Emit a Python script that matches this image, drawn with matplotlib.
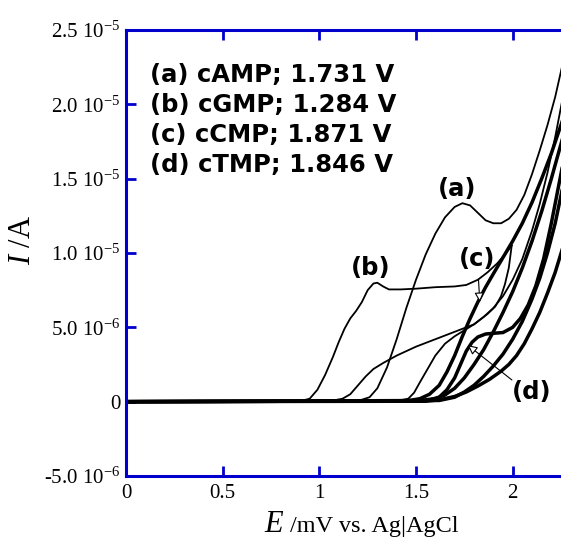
import matplotlib
matplotlib.use("Agg")
import matplotlib.pyplot as plt
import numpy as np

plt.rcParams['mathtext.fontset'] = 'custom'
plt.rcParams['mathtext.rm'] = 'Liberation Serif'
plt.rcParams['mathtext.it'] = 'Liberation Serif:italic'

# ---- data (current in units of 1e-6 A) ----
a_fwd_E = [0.0, 1.2, 1.26, 1.3, 1.35, 1.4, 1.45, 1.5, 1.55, 1.6, 1.65, 1.7, 1.74, 1.78, 1.82, 1.86, 1.9, 1.94, 1.98, 2.02, 2.06, 2.1, 2.14, 2.18, 2.22, 2.26]
a_fwd_I = [0.0, 0.05, 0.3, 0.9, 2.3, 4.2, 6.3, 8.2, 9.9, 11.3, 12.4, 13.1, 13.35, 13.2, 12.7, 12.2, 12.0, 12.0, 12.3, 12.9, 13.9, 15.3, 16.9, 18.6, 20.5, 22.8]
a_rev_E = [2.26, 2.22, 2.18, 2.14, 2.1, 2.05, 2.0, 1.95, 1.9, 1.85, 1.8, 1.75, 1.7, 1.65, 1.6, 1.56, 1.52, 1.49, 1.46, 1.4, 0.0]
a_rev_I = [20.5, 17.8, 15.4, 13.3, 11.5, 9.6, 8.2, 7.1, 6.3, 5.7, 5.2, 4.8, 4.4, 3.9, 3.1, 2.2, 1.3, 0.6, 0.2, 0.05, 0.0]

b_fwd_E = [0.0, 0.9, 0.95, 0.99, 1.03, 1.07, 1.1, 1.13, 1.16, 1.19, 1.22, 1.25, 1.28, 1.3, 1.33, 1.36, 1.42, 1.5, 1.6, 1.7, 1.76, 1.82, 1.87, 1.92, 1.96, 1.995]
b_fwd_I = [0.0, 0.03, 0.2, 0.8, 1.8, 3.0, 4.0, 4.9, 5.6, 6.1, 6.7, 7.5, 7.95, 8.0, 7.75, 7.55, 7.55, 7.6, 7.7, 7.75, 7.85, 8.2, 8.7, 9.3, 9.9, 10.5]
b_rev_E = [1.995, 1.98, 1.96, 1.94, 1.91, 1.87, 1.8, 1.72, 1.62, 1.5, 1.4, 1.33, 1.28, 1.24, 1.2, 1.16, 1.12, 1.06, 0.0]
b_rev_I = [10.5, 9.0, 7.9, 7.1, 6.4, 5.9, 5.2, 4.8, 4.3, 3.7, 3.1, 2.6, 2.2, 1.7, 1.1, 0.5, 0.2, 0.05, 0.0]

c_fwd_E = [0.0, 1.45, 1.52, 1.57, 1.62, 1.66, 1.7, 1.74, 1.78, 1.82, 1.86, 1.9, 1.95, 2.0, 2.05, 2.1, 2.15, 2.2, 2.26]
c_fwd_I = [0.0, 0.05, 0.2, 0.5, 1.1, 2.0, 3.1, 4.4, 5.6, 6.7, 7.7, 8.6, 9.7, 10.8, 12.0, 13.4, 15.0, 16.7, 19.0]
c_rev_E = [2.26, 2.2, 2.15, 2.1, 2.05, 2.0, 1.95, 1.9, 1.85, 1.8, 1.75, 1.7, 1.65, 1.6, 1.5, 0.0]
c_rev_I = [17.8, 15.0, 12.8, 10.8, 9.0, 7.4, 6.0, 4.7, 3.5, 2.5, 1.6, 0.9, 0.45, 0.2, 0.05, 0.0]

d_fwd_E = [0.0, 1.55, 1.62, 1.66, 1.7, 1.73, 1.76, 1.79, 1.82, 1.86, 1.9, 1.95, 2.0, 2.04, 2.08, 2.12, 2.16, 2.2, 2.26]
d_fwd_I = [0.0, 0.05, 0.3, 0.8, 1.6, 2.5, 3.4, 4.0, 4.35, 4.55, 4.6, 4.65, 5.0, 5.6, 6.5, 7.8, 9.6, 12.0, 16.0]
d_rev_E = [2.26, 2.22, 2.18, 2.14, 2.1, 2.05, 2.0, 1.95, 1.9, 1.85, 1.8, 1.75, 1.7, 1.62, 0.0]
d_rev_I = [14.5, 12.0, 10.0, 8.3, 6.9, 5.4, 4.2, 3.2, 2.4, 1.7, 1.1, 0.65, 0.3, 0.08, 0.0]

bg_E = [0.0, 1.55, 1.62, 1.7, 1.76, 1.82, 1.88, 1.94, 1.98, 2.02, 2.06, 2.1, 2.14, 2.18, 2.22, 2.26]
bg_I = [0.0, 0.03, 0.12, 0.35, 0.65, 1.05, 1.5, 2.05, 2.5, 3.1, 3.9, 4.9, 6.0, 7.3, 8.7, 10.4]

xticks = [0, 0.5, 1, 1.5, 2]
xticklabels = ['0', '0.5', '1', '1.5', '2']
yticks = [-5e-6, 0, 5e-6, 1e-5, 1.5e-5, 2e-5, 2.5e-5]
yticklabels = ['-5.0 10$^{-6}$', '0', '5.0 10$^{-6}$', '1.0 10$^{-5}$',
               '1.5 10$^{-5}$', '2.0 10$^{-5}$', '2.5 10$^{-5}$']
legend_lines = ['(a) cAMP; 1.731 V', '(b) cGMP; 1.284 V',
                '(c) cCMP; 1.871 V', '(d) cTMP; 1.846 V']

W, H = 561, 538
fig = plt.figure(figsize=(W / 100, H / 100), dpi=100)
ax = fig.add_axes([126 / W, 1 - 476 / H, (561 - 126) / W, (476 - 30) / H])

scale = 1e-6
thin = 1.3
thick = 2.5
ax.plot(np.array(bg_E), np.array(bg_I) * scale, color='black', lw=thick)
for E, I, lw in [(c_fwd_E, c_fwd_I, thick), (c_rev_E, c_rev_I, thick),
                 (d_fwd_E, d_fwd_I, thick), (d_rev_E, d_rev_I, thick),
                 (a_fwd_E, a_fwd_I, thin), (a_rev_E, a_rev_I, thin),
                 (b_fwd_E, b_fwd_I, thin), (b_rev_E, b_rev_I, thin)]:
    ax.plot(np.array(E), np.array(I) * scale, color='black', lw=lw,
            solid_joinstyle='round')

ax.set_xlim(0, 2.25)
ax.set_ylim(-5e-6, 2.5e-5)

blue = '#0000CC'
for s in ['left', 'bottom', 'top']:
    ax.spines[s].set_color(blue)
    ax.spines[s].set_linewidth(2.2)
ax.spines['right'].set_visible(False)

ax.set_xticks(xticks)
ax.set_xticklabels(xticklabels)
ax.set_yticks(yticks)
ax.set_yticklabels(yticklabels)
ax.tick_params(axis='both', direction='in', length=7, width=2, color=blue,
               labelsize=15, top=True, right=False)
ax.tick_params(axis='x', pad=6)
ax.tick_params(axis='y', pad=4)
for lab in ax.get_xticklabels() + ax.get_yticklabels():
    lab.set_fontfamily('Liberation Serif')

# y label and x label
fig.text(23 / W, 1 - 240 / H, '$I$ /A', rotation=90, ha='center', va='center',
         fontsize=22, family='Liberation Serif')
fig.text(264 / W, 1 - 532 / H, 'E', ha='left', va='baseline', style='italic',
         fontsize=22, family='Liberation Serif')
fig.text(290 / W, 1 - 532 / H, '/mV vs. Ag|AgCl', ha='left', va='baseline',
         fontsize=17.5, family='Liberation Serif')

# legend text
for i, t in enumerate(legend_lines):
    ax.text(0.125, (401.7 - (75 + 30 * i)) / 14.87 * scale, t, ha='left', va='center',
            fontsize=17.5, fontweight='bold', family='DejaVu Sans')

lab_kw = dict(fontsize=17.5, fontweight='bold', family='DejaVu Sans', ha='center', va='center')
ax.text(1.715, 14.3 * scale, '(a)', **lab_kw)
ax.text(1.266, 9.0 * scale, '(b)', **lab_kw)
ax.annotate('(c)', xy=(1.830, 6.7 * scale), xytext=(1.817, 9.6 * scale),
            arrowprops=dict(arrowstyle='-|>', fc='white', ec='black', lw=0.8,
                            mutation_scale=14, shrinkA=4, shrinkB=0), **lab_kw)
ax.annotate('', xy=(1.768, 3.8 * scale), xytext=(1.996, 1.46 * scale),
            arrowprops=dict(arrowstyle='-|>', fc='white', ec='black', lw=0.8,
                            mutation_scale=14, shrinkA=0, shrinkB=0))
ax.text(2.1, 0.65 * scale, '(d)', **lab_kw)

fig.savefig('out.png', dpi=100)
